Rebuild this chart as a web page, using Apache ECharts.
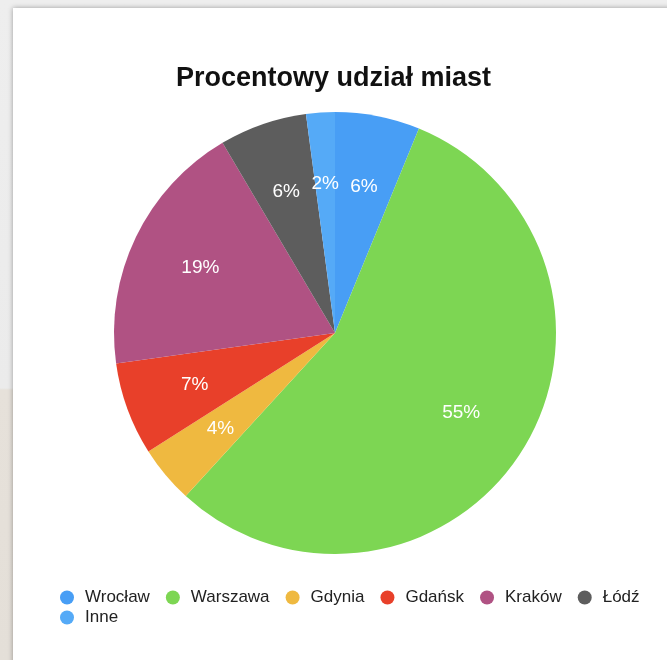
<!DOCTYPE html>
<html>
<head>
<meta charset="utf-8">
<script src="https://cdn.jsdelivr.net/npm/echarts@6/dist/echarts.min.js"></script>
<style>
  html, body { margin: 0; padding: 0; width: 667px; height: 660px; overflow: hidden;
    background: linear-gradient(to bottom, #eeeeee 0px, #ebebeb 388px, #e6e1da 390px, #e4dfd8 660px); }
  #card { position: absolute; left: 13px; top: 8px; width: 720px; height: 720px; background: #fff;
    box-shadow: 0 0 5px rgba(0,0,0,0.35); }
  #chart { position: absolute; left: 0; top: 0; width: 667px; height: 660px; }
</style>
</head>
<body>
<div id="card"></div>
<div id="chart"></div>
<script>
const titleText = 'Procentowy udział miast';
const categories = ['Wrocław', 'Warszawa', 'Gdynia', 'Gdańsk', 'Kraków', 'Łódź', 'Inne'];
// slice sizes (share, %) as measured from the slice angles
const values = [6.2, 55.6, 4.2, 6.8, 18.7, 6.4, 2.1];
// percentage labels printed on the slices
const percentLabels = [6, 55, 4, 7, 19, 6, 2];
const colors = ['#489ef5', '#7dd653', '#efb940', '#e8402a', '#b05283', '#5d5d5d', '#55aaf7'];

const font = '"Liberation Sans", Arial, Helvetica, sans-serif';
const pieData = categories.map((n, i) => ({ name: n, value: values[i], itemStyle: { color: colors[i] } }));
const labelData = categories.map((n, i) => ({ name: n, value: values[i], label: { formatter: percentLabels[i] + '%' } }));

const chart = echarts.init(document.getElementById('chart'), null, { renderer: 'canvas' });
chart.setOption({
  backgroundColor: 'transparent',
  animation: false,
  title: {
    text: titleText,
    left: 'center',
    top: 60,
    textStyle: { fontFamily: font, fontSize: 27, fontWeight: 'bold', color: '#111' }
  },
  legend: {
    data: categories,
    left: 60,
    right: 2,
    top: 589,
    padding: 0,
    icon: 'circle',
    itemWidth: 14,
    itemHeight: 14,
    itemGap: 3,
    textStyle: { fontFamily: font, fontSize: 17, color: '#222', lineHeight: 14, padding: [0, 13, 0, 6] }
  },
  series: [
    {
      type: 'pie',
      center: [335, 333],
      radius: [0, 221],
      startAngle: 90,
      clockwise: true,
      silent: true,
      label: { show: false },
      labelLine: { show: false },
      itemStyle: { borderWidth: 0 },
      data: pieData
    },
    {
      type: 'pie',
      center: [335, 333],
      radius: [72, 221],
      startAngle: 90,
      clockwise: true,
      silent: true,
      legendHoverLink: false,
      itemStyle: { color: 'rgba(0,0,0,0)', borderWidth: 0 },
      label: {
        show: true,
        position: 'inside',
        color: '#fff',
        fontFamily: font,
        fontSize: 19
      },
      labelLine: { show: false },
      data: labelData
    }
  ]
});
</script>
</body>
</html>
